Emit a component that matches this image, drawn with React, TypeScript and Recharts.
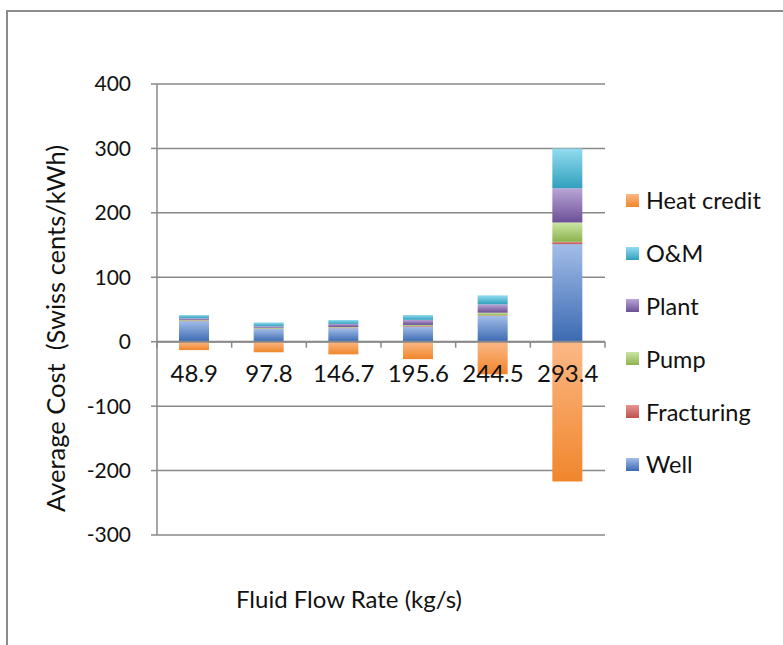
import React from "react";
import {
  BarChart,
  Bar,
  XAxis,
  YAxis,
  CartesianGrid,
  ReferenceLine,
  Legend,
} from "recharts";

const flowRates = ["48.9", "97.8", "146.7", "195.6", "244.5", "293.4"];
const well = [32, 20, 21, 23.5, 40, 151.5];
const fracturing = [1, 0.5, 0.7, 1, 1, 3.5];
const pump = [1, 1, 1, 1.5, 4, 30];
const plant = [2.5, 2.5, 5, 8, 13, 53];
const om = [5, 6, 6, 7.5, 14, 62];
const heatCredit = [-13, -16.5, -19.6, -27, -50.6, -217];
const yTicks = [-300, -200, -100, 0, 100, 200, 300, 400];

const data = flowRates.map((flow, i) => ({
  flow,
  well: well[i],
  fracturing: fracturing[i],
  pump: pump[i],
  plant: plant[i],
  om: om[i],
  heat: heatCredit[i],
}));

// stack order bottom -> top; legend shows it reversed
const series = [
  { key: "well", name: "Well", light: "#a3bde8", dark: "#3b6ab2" },
  { key: "fracturing", name: "Fracturing", light: "#e39592", dark: "#c0504d" },
  { key: "pump", name: "Pump", light: "#cbe6a3", dark: "#8db24f" },
  { key: "plant", name: "Plant", light: "#b9a6d6", dark: "#6c4f96" },
  { key: "om", name: "O&M", light: "#93dcf0", dark: "#31a0bd" },
  { key: "heat", name: "Heat credit", light: "#fcb886", dark: "#f0862c" },
];

const FONT = "Lato, 'Open Sans', sans-serif";
const W = 783;
const H = 645;
const PLOT_LEFT = 157;
const PLOT_RIGHT = 605;
const PLOT_TOP = 84;
const PLOT_BOTTOM = 535;
const Y_MIN = -300;
const Y_MAX = 400;
const AXIS_GRAY = "#888888";

const zeroY = PLOT_TOP + ((PLOT_BOTTOM - PLOT_TOP) * Y_MAX) / (Y_MAX - Y_MIN);
const band = (PLOT_RIGHT - PLOT_LEFT) / flowRates.length;

function FlowTick(props: any) {
  const { x, payload, index } = props;
  const last = index === flowRates.length - 1;
  return (
    <g>
      <line x1={x - band / 2} x2={x - band / 2} y1={zeroY} y2={zeroY + 6} stroke={AXIS_GRAY} strokeWidth={1.5} />
      {last && (
        <line x1={x + band / 2} x2={x + band / 2} y1={zeroY} y2={zeroY + 6} stroke={AXIS_GRAY} strokeWidth={1.5} />
      )}
      <text x={x} y={zeroY + 31} textAnchor="middle" dominantBaseline="central" fontSize={24} fontFamily={FONT} fill="#111">
        {payload.value}
      </text>
    </g>
  );
}

function renderLegend() {
  return (
    <div style={{ fontFamily: FONT, fontSize: 23.5, color: "#111" }}>
      {[...series].reverse().map((s) => (
        <div key={s.key} style={{ display: "flex", alignItems: "center", height: 52.8 }}>
          <span
            style={{
              width: 13,
              height: 13,
              marginRight: 7,
              background: `linear-gradient(${s.light}, ${s.dark})`,
            }}
          />
          <span>{s.name}</span>
        </div>
      ))}
    </div>
  );
}

export default function App() {
  return (
    <div style={{ position: "absolute", left: 0, top: 0, width: W, height: H, background: "#fff" }}>
      <div
        style={{
          position: "absolute",
          left: 6,
          top: 10,
          width: W,
          height: H,
          borderTop: "2px solid #8c8c8c",
          borderLeft: "2px solid #8c8c8c",
        }}
      />
      <BarChart
        width={W}
        height={H}
        data={data}
        stackOffset="sign"
        barSize={30}
        margin={{ top: PLOT_TOP, right: W - PLOT_RIGHT, bottom: H - PLOT_BOTTOM - 40, left: PLOT_LEFT - 70 }}
      >
        <defs>
          {series.map((s) => (
            <linearGradient key={s.key} id={`grad-${s.key}`} x1="0" y1="0" x2="0" y2="1">
              <stop offset="0%" stopColor={s.light} />
              <stop offset="100%" stopColor={s.dark} />
            </linearGradient>
          ))}
        </defs>
        <CartesianGrid vertical={false} stroke={AXIS_GRAY} strokeWidth={1.5} />
        <XAxis
          dataKey="flow"
          height={40}
          axisLine={false}
          tickLine={false}
          interval={0}
          tick={<FlowTick />}
          label={{
            content: (p: any) => (
              <text
                x={p.viewBox.x + p.viewBox.width / 2 - 32}
                y={598}
                textAnchor="middle"
                dominantBaseline="central"
                fontSize={24}
                fontFamily={FONT}
                fill="#111"
              >
                Fluid Flow Rate (kg/s)
              </text>
            ),
          }}
        />
        <YAxis
          width={70}
          domain={[Y_MIN, Y_MAX]}
          ticks={yTicks}
          interval={0}
          tickSize={6}
          tickMargin={20}
          stroke={AXIS_GRAY}
          axisLine={{ stroke: AXIS_GRAY, strokeWidth: 1.5 }}
          tickLine={{ stroke: AXIS_GRAY, strokeWidth: 1.5 }}
          tick={{ fontSize: 21, fontFamily: FONT, fill: "#111" }}
          label={{
            content: (p: any) => {
              const cx = 55;
              const cy = p.viewBox.y + p.viewBox.height / 2 + 19;
              return (
                <text
                  x={cx}
                  y={cy}
                  transform={`rotate(-90 ${cx} ${cy})`}
                  textAnchor="middle"
                  dominantBaseline="central"
                  fontSize={25.5}
                  fontFamily={FONT}
                  fill="#111"
                  style={{ whiteSpace: "pre" }}
                >
                  {"Average Cost  (Swiss cents/kWh)"}
                </text>
              );
            },
          }}
        />
        <ReferenceLine y={0} stroke={AXIS_GRAY} strokeWidth={2} />
        {series.map((s) => (
          <Bar
            key={s.key}
            dataKey={s.key}
            name={s.name}
            stackId="cost"
            fill={`url(#grad-${s.key})`}
            isAnimationActive={false}
          />
        ))}
        <Legend
          layout="horizontal"
          verticalAlign="middle"
          align="center"
          content={renderLegend}
          wrapperStyle={{ left: 626, top: 174, width: 157 }}
        />
      </BarChart>
    </div>
  );
}
